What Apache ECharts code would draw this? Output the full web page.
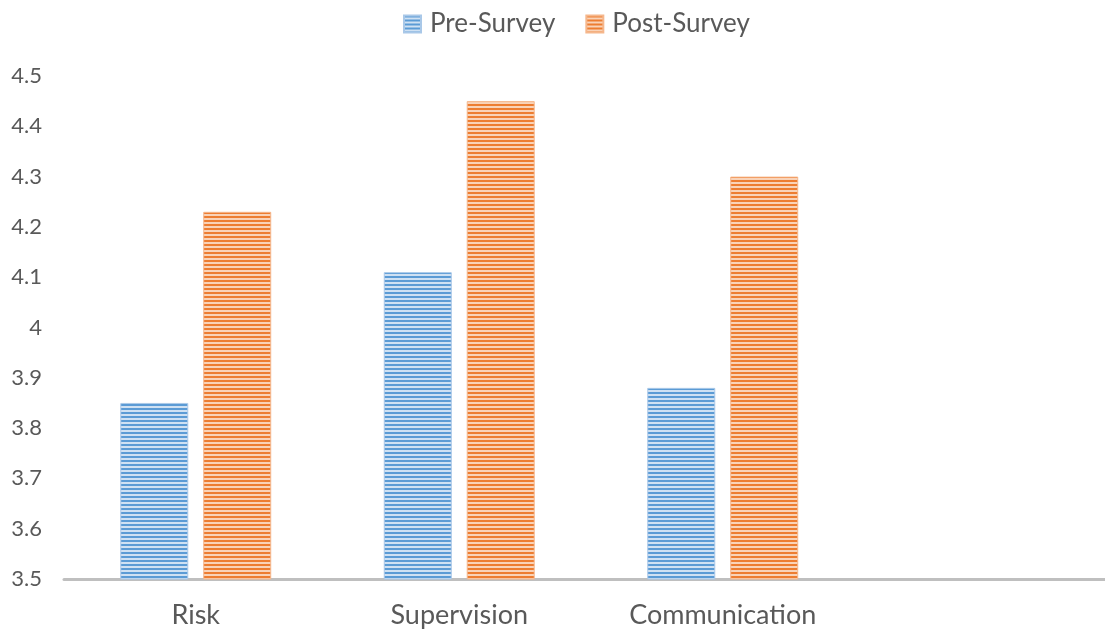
<!DOCTYPE html>
<html>
<head>
<meta charset="utf-8">
<script src="https://cdn.jsdelivr.net/npm/echarts@6/dist/echarts.min.js"></script>
<style>
html,body{margin:0;padding:0;background:#fff;overflow:hidden;width:1105px;height:629px;}
#chart{width:1118px;height:629px;}
</style>
</head>
<body>
<div id="chart"></div>
<script>
const categories = ['Risk', 'Supervision', 'Communication', ''];
const preSurvey = [3.85, 4.11, 3.88, null];
const postSurvey = [4.23, 4.45, 4.30, null];
const yTicks = { min: 3.5, max: 4.5, interval: 0.1 };

function stripe(dark, light) {
  const c = document.createElement('canvas');
  c.width = 4; c.height = 4;
  const ctx = c.getContext('2d');
  ctx.fillStyle = light; ctx.fillRect(0, 0, 4, 4);
  ctx.fillStyle = dark; ctx.fillRect(0, 0, 4, 2);
  return { image: c, repeat: 'repeat' };
}
const bluePat = stripe('#5b9bd5', '#cfe1f3');
const orangePat = stripe('#ed7d31', '#f9d3b8');
const FONT = 'Lato, Open Sans, sans-serif';

const chart = echarts.init(document.getElementById('chart'));
chart.setOption({
  animation: false,
  legend: {
    top: 6,
    left: 398,
    icon: 'rect',
    itemWidth: 17,
    itemHeight: 17,
    itemGap: 30,
    textStyle: { fontFamily: FONT, fontSize: 26, color: '#595959', padding: [0, 0, 0, 4] },
    data: ['Pre-Survey', 'Post-Survey']
  },
  grid: { left: 64, right: 0, top: 76, bottom: 50 },
  xAxis: {
    type: 'category',
    data: categories,
    axisLine: { lineStyle: { color: '#bfbfbf', width: 3 } },
    axisTick: { show: false },
    axisLabel: { fontFamily: FONT, fontSize: 27, color: '#595959', margin: 23 }
  },
  yAxis: {
    type: 'value',
    min: yTicks.min, max: yTicks.max, interval: yTicks.interval,
    splitLine: { show: false },
    axisLine: { show: false },
    axisTick: { show: false },
    axisLabel: {
      fontFamily: FONT, fontSize: 22, color: '#595959', margin: 22,
      formatter: v => String(Math.round(v * 10) / 10)
    }
  },
  series: [
    { name: 'Pre-Survey', type: 'bar', data: preSurvey, barWidth: 68, barGap: '22%',
      itemStyle: { color: bluePat, borderColor: '#a9c8e8', borderWidth: 1 } },
    { name: 'Post-Survey', type: 'bar', data: postSurvey, barWidth: 68, barGap: '22%',
      itemStyle: { color: orangePat, borderColor: '#f5b78c', borderWidth: 1 } }
  ]
});
</script>
</body>
</html>
